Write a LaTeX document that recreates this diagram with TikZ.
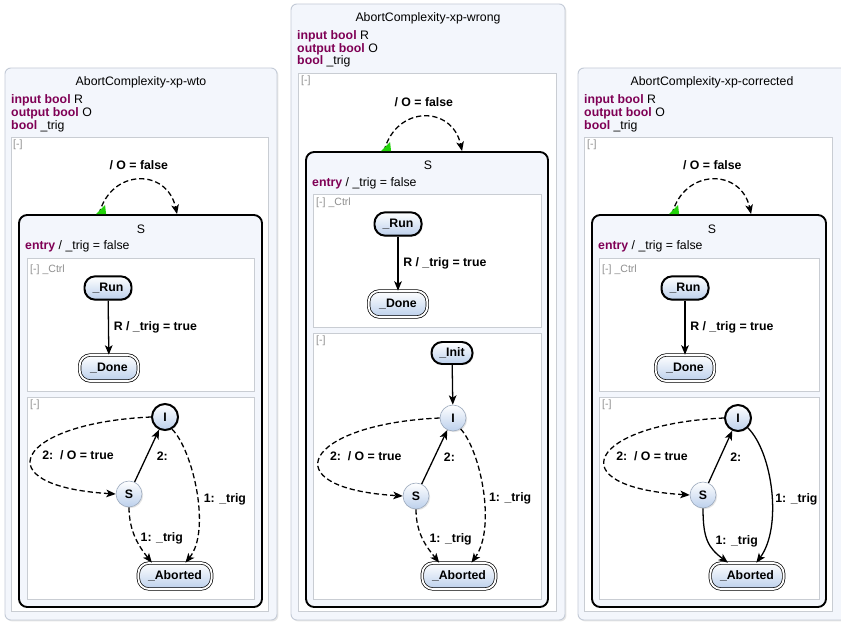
\documentclass[tikz,border=0pt]{standalone}
\usepackage{fontspec}
\setmainfont{Liberation Sans}
\usetikzlibrary{arrows.meta,calc,fit,shadows}
\definecolor{keyword}{HTML}{7F0055}
\definecolor{panelfill}{HTML}{F3F6FC}
\definecolor{paneldraw}{HTML}{C3CAD6}
\definecolor{regiondraw}{HTML}{C9CDD3}
\definecolor{stateblue}{HTML}{BCD0EC}
\definecolor{stateline}{HTML}{9AA8BC}
\definecolor{hint}{HTML}{8E8E8E}
\definecolor{startgreen}{HTML}{22D20A}
\newcommand{\kw}[1]{\textcolor{keyword}{\textbf{#1}}}

\begin{document}
\begin{tikzpicture}[
  x=0.03cm, y=-0.03cm,
  every node/.style={font=\fontsize{10.5}{12}\selectfont},
  panel/.style={draw=paneldraw, fill=panelfill, rounded corners=5pt, line width=0.8pt, inner sep=0pt,
    drop shadow={opacity=0.2, shadow xshift=1.2pt, shadow yshift=-1.2pt}},
  region/.style={draw=regiondraw, fill=white, line width=0.6pt, inner sep=0pt},
  superstate/.style={draw=black, fill=panelfill, line width=1.6pt, rounded corners=7pt, inner sep=0pt},
  basestate/.style={draw=stateline, line width=0.5pt, top color=white, bottom color=stateblue,
    font=\fontsize{10.5}{12}\selectfont\bfseries, inner sep=1pt,
    drop shadow={opacity=0.2, shadow xshift=1pt, shadow yshift=-1pt}},
  cstate/.style={basestate, circle, minimum size=0.78cm},
  rstate/.style={basestate, rectangle, rounded corners=0.32cm, minimum height=0.7cm},
  initstate/.style={draw=black, line width=1.7pt},
  finalstate/.style={draw=black, double, double distance=1.6pt, line width=0.6pt, minimum height=0.78cm},
  trans/.style={line width=1.1pt, -{Stealth[length=8pt, width=6.5pt, inset=2pt]}},
  dashtrans/.style={trans, dash pattern=on 4.5pt off 2.5pt},
  lbl/.style={font=\fontsize{10.5}{12}\selectfont\bfseries, inner sep=1pt},
  decl/.style={anchor=west, inner sep=0pt},
  hinttext/.style={anchor=west, inner sep=0pt, text=hint, font=\fontsize{9}{10}\selectfont}
]
\useasboundingbox (0,0) rectangle (841,622);

% ---- xp-wto
\node[panel, fit={(5,68) (277,620)}] (p1) {};
\node (t1) at (141,82) {AbortComplexity-xp-wto};
\node[decl] (d1a) at (11,100) {\kw{input bool} R};
\node[decl] (d1b) at (11,113) {\kw{output bool} O};
\node[decl] (d1c) at (11,126) {\kw{bool} \_trig};
\node[region, fit={(11,137) (268,611)}] (r1) {};
\node[hinttext] (h1) at (13,145) {[-]};
\node[superstate, fit={(19,215) (262,607)}] (S1) {};
\node (S1t) at (141,229) {S};
\node[decl] (e1) at (25,246) {\kw{entry} / \_trig = false};
\node[region, fit={(27,258) (254,391)}] (c1) {};
\node[hinttext] (c1t) at (30,270) {[-] \_Ctrl};
\node[rstate, initstate, minimum width=1.41cm] (run1) at (108,288) {\_Run};
\node[rstate, finalstate, minimum width=1.76cm] (done1) at (109,368) {\_Done};
\node[region, fit={(27,397) (254,599)}] (a1) {};
\node[hinttext] (a1t) at (30,405) {[-]};
\node[cstate, initstate] (i1) at (165,417) {I};
\node[cstate] (s1) at (129,494) {S};
\node[rstate, finalstate, minimum width=2.2cm] (ab1) at (175,576) {\_Aborted};

\draw[trans] (run1) -- node[lbl, right=3pt] {R / \_trig = true} (done1);
\draw[dashtrans] (i1.west) .. controls +(-135,6) and +(-133,-8) .. (s1.west)
  node[lbl, pos=0.5, anchor=west, xshift=6.5pt] {2:\ \ / O = true};
\draw[trans] (s1) -- node[lbl, right=7pt] {2:} (i1);
\draw[dashtrans] (i1.-60) .. controls +(21,21) and +(26,-32) .. (ab1.52)
  node[lbl, pos=0.55, anchor=west, xshift=4pt] {1: \_trig};
\draw[dashtrans] (s1.south) .. controls +(0,25) and +(-12,-15) .. (ab1.150)
  node[lbl, pos=0.5, anchor=west, xshift=2.5pt] {1: \_trig};
\coordinate (l1a) at ($(S1.north west)+(81,0)$);
\coordinate (l1b) at ($(S1.north west)+(159,0)$);
\draw[dashtrans] (l1a) .. controls +(12,-46) and +(-10,-46) .. (l1b)
  node[lbl, pos=0.5, above=7pt] {/ O = false};
\fill[startgreen] ($(l1a)+(-3,0)$) -- ($(l1a)+(7,0)$) -- ($(l1a)+(6,-9)$) -- cycle;

% ---- xp-wrong
\node[panel, fit={(291,4) (565,620)}] (p2) {};
\node (t2) at (428,18) {AbortComplexity-xp-wrong};
\node[decl] (d2a) at (297,36) {\kw{input bool} R};
\node[decl] (d2b) at (297,49) {\kw{output bool} O};
\node[decl] (d2c) at (297,61) {\kw{bool} \_trig};
\node[region, fit={(298,73) (556,611)}] (r2) {};
\node[hinttext] (h2) at (301,81) {[-]};
\node[superstate, fit={(306,152) (548,607)}] (S2) {};
\node (S2t) at (428,165) {S};
\node[decl] (e2) at (312,183) {\kw{entry} / \_trig = false};
\node[region, fit={(313,194) (541,327)}] (c2) {};
\node[hinttext] (c2t) at (316,203) {[-] \_Ctrl};
\node[rstate, initstate, minimum width=1.41cm] (run2) at (398,224) {\_Run};
\node[rstate, finalstate, minimum width=1.76cm] (done2) at (398,304) {\_Done};
\node[region, fit={(313,333) (541,599)}] (a2) {};
\node[hinttext] (a2t) at (316,341) {[-]};
\node[rstate, initstate, minimum width=1.23cm, minimum height=0.66cm] (init2) at (452,353) {\_Init};
\node[cstate] (i2) at (453,418) {I};
\node[cstate] (s2) at (416,496) {S};
\node[rstate, finalstate, minimum width=2.2cm] (ab2) at (459,576) {\_Aborted};

\draw[trans] (run2) -- node[lbl, right=3pt] {R / \_trig = true} (done2);
\draw[trans] (init2) -- (i2);
\draw[dashtrans] (i2.west) .. controls +(-135,6) and +(-133,-8) .. (s2.west)
  node[lbl, pos=0.5, anchor=west, xshift=6.5pt] {2:\ \ / O = true};
\draw[trans] (s2) -- node[lbl, right=6.5pt] {2:} (i2);
\draw[dashtrans] (i2.-55) .. controls +(20,22) and +(25,-35) .. (ab2.47)
  node[lbl, pos=0.55, anchor=west, xshift=3pt] {1: \_trig};
\draw[dashtrans] (s2.south) .. controls +(0,25) and +(-12,-15) .. (ab2.146)
  node[lbl, pos=0.5, anchor=west, xshift=4pt] {1: \_trig};
\coordinate (l2a) at ($(S2.north west)+(79,0)$);
\coordinate (l2b) at ($(S2.north west)+(157,0)$);
\draw[dashtrans] (l2a) .. controls +(12,-46) and +(-10,-46) .. (l2b)
  node[lbl, pos=0.5, above=7pt] {/ O = false};
\fill[startgreen] ($(l2a)+(-3,0)$) -- ($(l2a)+(7,0)$) -- ($(l2a)+(6,-9)$) -- cycle;

% ---- xp-corrected
\node[panel, fit={(578,68) (848,620)}] (p3) {};
\node (t3) at (712,82) {AbortComplexity-xp-corrected};
\node[decl] (d3a) at (584,100) {\kw{input bool} R};
\node[decl] (d3b) at (584,113) {\kw{output bool} O};
\node[decl] (d3c) at (584,126) {\kw{bool} \_trig};
\node[region, fit={(584,137) (832,611)}] (r3) {};
\node[hinttext] (h3) at (587,145) {[-]};
\node[superstate, fit={(592,215) (826,607)}] (S3) {};
\node (S3t) at (712,229) {S};
\node[decl] (e3) at (598,246) {\kw{entry} / \_trig = false};
\node[region, fit={(599,258) (819,391)}] (c3) {};
\node[hinttext] (c3t) at (602,270) {[-] \_Ctrl};
\node[rstate, initstate, minimum width=1.41cm] (run3) at (685,288) {\_Run};
\node[rstate, finalstate, minimum width=1.76cm] (done3) at (685,368) {\_Done};
\node[region, fit={(599,397) (819,599)}] (a3) {};
\node[hinttext] (a3t) at (602,405) {[-]};
\node[cstate, initstate] (i3) at (738,418) {I};
\node[cstate] (s3) at (703,495) {S};
\node[rstate, finalstate, minimum width=2.2cm] (ab3) at (747,576) {\_Aborted};

\draw[trans] (run3) -- node[lbl, right=3pt] {R / \_trig = true} (done3);
\draw[dashtrans] (i3.west) .. controls +(-135,6) and +(-133,-8) .. (s3.west)
  node[lbl, pos=0.5, anchor=west, xshift=7pt] {2:\ \ / O = true};
\draw[trans] (s3) -- node[lbl, right=7pt] {2:} (i3);
\draw[trans] (i3.-45) .. controls +(25,25) and +(26,-35) .. (ab3.55)
  node[lbl, pos=0.55, anchor=west, xshift=1.5pt] {1: \_trig};
\draw[trans] (s3.south) .. controls +(0,30) and +(-20,-15) .. (ab3.145)
  node[lbl, pos=0.5, anchor=west, xshift=5pt] {1: \_trig};
\coordinate (l3a) at ($(S3.north west)+(81,0)$);
\coordinate (l3b) at ($(S3.north west)+(160,0)$);
\draw[dashtrans] (l3a) .. controls +(12,-46) and +(-10,-46) .. (l3b)
  node[lbl, pos=0.5, above=7pt] {/ O = false};
\fill[startgreen] ($(l3a)+(-3,0)$) -- ($(l3a)+(7,0)$) -- ($(l3a)+(6,-9)$) -- cycle;
\end{tikzpicture}
\end{document}
